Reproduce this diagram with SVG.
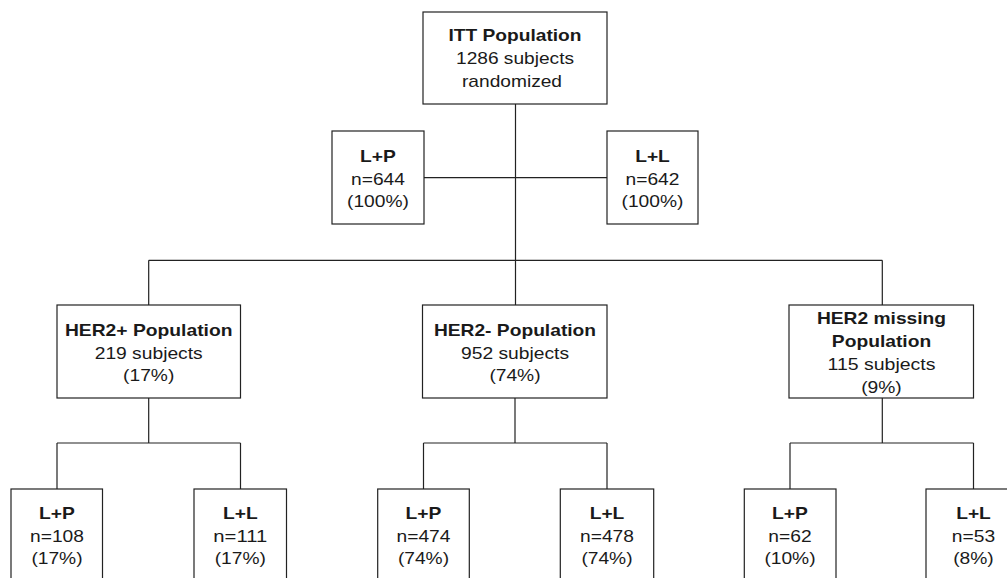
<svg xmlns="http://www.w3.org/2000/svg" width="1007" height="578" viewBox="0 0 1007 578">
<style>
.box{fill:#fff;stroke:#222;stroke-width:1.2}
.ln{fill:none;stroke:#222;stroke-width:1.2}
text{font-family:"Liberation Sans",Arial,sans-serif;font-size:17px;fill:#1a1a1a;text-anchor:middle}
.b{font-weight:bold}
</style>
<rect width="1007" height="578" fill="#fff"/>
<g id="connectors">
<path class="ln" d="M515.5,104 V305 M424,177.7 H607 M148.7,260.3 H882.3 M148.7,260.3 V305 M882.3,260.3 V305"/>
<path class="ln" d="M148.7,398 V443 M57,443 H240.5 M57,443 V489 M240.5,443 V489"/>
<path class="ln" d="M515,398 V443 M423.5,443 H607 M423.5,443 V489 M607,443 V489"/>
<path class="ln" d="M882.3,398 V443 M790,443 H973.5 M790,443 V489 M973.5,443 V489"/>
</g>
<g id="itt">
<rect class="box" x="423" y="12" width="184" height="92"/>
<text class="b" x="515" y="41.3" textLength="133" lengthAdjust="spacingAndGlyphs">ITT Population</text>
<text x="515" y="64" textLength="118" lengthAdjust="spacingAndGlyphs">1286 subjects</text>
<text x="512" y="86.6" textLength="100" lengthAdjust="spacingAndGlyphs">randomized</text>
</g>
<g id="lp-all">
<rect class="box" x="332" y="131" width="92" height="93"/>
<text class="b" x="378" y="162" textLength="35.8" lengthAdjust="spacingAndGlyphs">L+P</text>
<text x="378" y="184.5" textLength="53.9" lengthAdjust="spacingAndGlyphs">n=644</text>
<text x="378" y="207" textLength="61.9" lengthAdjust="spacingAndGlyphs">(100%)</text>
</g>
<g id="ll-all">
<rect class="box" x="607" y="131" width="91" height="93"/>
<text class="b" x="652.5" y="162" textLength="34.7" lengthAdjust="spacingAndGlyphs">L+L</text>
<text x="652.5" y="184.5" textLength="53.9" lengthAdjust="spacingAndGlyphs">n=642</text>
<text x="652.5" y="207" textLength="61.9" lengthAdjust="spacingAndGlyphs">(100%)</text>
</g>
<g id="her2pos">
<rect class="box" x="57" y="305" width="183.5" height="93"/>
<text class="b" x="148.7" y="336" textLength="167.5" lengthAdjust="spacingAndGlyphs">HER2+ Population</text>
<text x="148.7" y="358.5" textLength="108" lengthAdjust="spacingAndGlyphs">219 subjects</text>
<text x="148.7" y="381" textLength="51.2" lengthAdjust="spacingAndGlyphs">(17%)</text>
</g>
<g id="her2neg">
<rect class="box" x="422.5" y="305" width="184.5" height="93"/>
<text class="b" x="515" y="336" textLength="162.2" lengthAdjust="spacingAndGlyphs">HER2- Population</text>
<text x="515" y="358.5" textLength="108" lengthAdjust="spacingAndGlyphs">952 subjects</text>
<text x="515" y="381" textLength="51.2" lengthAdjust="spacingAndGlyphs">(74%)</text>
</g>
<g id="her2miss">
<rect class="box" x="789" y="305" width="184.5" height="93"/>
<text class="b" x="881.5" y="323.8" textLength="129.2" lengthAdjust="spacingAndGlyphs">HER2 missing</text>
<text class="b" x="881.5" y="347" textLength="99.3" lengthAdjust="spacingAndGlyphs">Population</text>
<text x="881.5" y="370.2" textLength="108" lengthAdjust="spacingAndGlyphs">115 subjects</text>
<text x="881.5" y="393.4" textLength="40.6" lengthAdjust="spacingAndGlyphs">(9%)</text>
</g>
<g id="pos-lp">
<rect class="box" x="11" y="489" width="91.5" height="93"/>
<text class="b" x="57" y="519" textLength="35.8" lengthAdjust="spacingAndGlyphs">L+P</text>
<text x="57" y="541.5" textLength="53.9" lengthAdjust="spacingAndGlyphs">n=108</text>
<text x="57" y="564" textLength="51.2" lengthAdjust="spacingAndGlyphs">(17%)</text>
</g>
<g id="pos-ll">
<rect class="box" x="194" y="489" width="92.5" height="93"/>
<text class="b" x="240.3" y="519" textLength="34.7" lengthAdjust="spacingAndGlyphs">L+L</text>
<text x="240.3" y="541.5" textLength="53.9" lengthAdjust="spacingAndGlyphs">n=111</text>
<text x="240.3" y="564" textLength="51.2" lengthAdjust="spacingAndGlyphs">(17%)</text>
</g>
<g id="neg-lp">
<rect class="box" x="377.7" y="489" width="91.6" height="93"/>
<text class="b" x="423.5" y="519" textLength="35.8" lengthAdjust="spacingAndGlyphs">L+P</text>
<text x="423.5" y="541.5" textLength="53.9" lengthAdjust="spacingAndGlyphs">n=474</text>
<text x="423.5" y="564" textLength="51.2" lengthAdjust="spacingAndGlyphs">(74%)</text>
</g>
<g id="neg-ll">
<rect class="box" x="560.3" y="489" width="93.4" height="93"/>
<text class="b" x="607" y="519" textLength="34.7" lengthAdjust="spacingAndGlyphs">L+L</text>
<text x="607" y="541.5" textLength="53.9" lengthAdjust="spacingAndGlyphs">n=478</text>
<text x="607" y="564" textLength="51.2" lengthAdjust="spacingAndGlyphs">(74%)</text>
</g>
<g id="miss-lp">
<rect class="box" x="744.3" y="489" width="91.7" height="93"/>
<text class="b" x="790" y="519" textLength="35.8" lengthAdjust="spacingAndGlyphs">L+P</text>
<text x="790" y="541.5" textLength="43.3" lengthAdjust="spacingAndGlyphs">n=62</text>
<text x="790" y="564" textLength="51.2" lengthAdjust="spacingAndGlyphs">(10%)</text>
</g>
<g id="miss-ll">
<rect class="box" x="926" y="489" width="95" height="93"/>
<text class="b" x="973.5" y="519" textLength="34.7" lengthAdjust="spacingAndGlyphs">L+L</text>
<text x="973.5" y="541.5" textLength="43.3" lengthAdjust="spacingAndGlyphs">n=53</text>
<text x="973.5" y="564" textLength="40.6" lengthAdjust="spacingAndGlyphs">(8%)</text>
</g>
</svg>
